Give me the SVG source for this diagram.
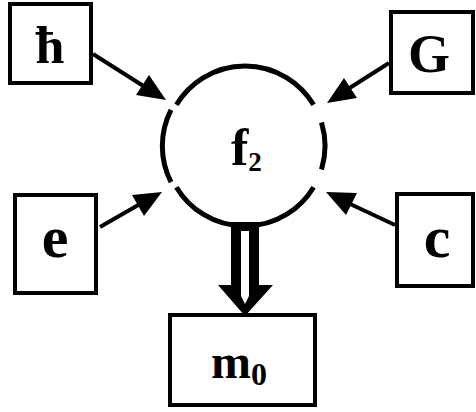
<svg xmlns="http://www.w3.org/2000/svg" width="476" height="412" viewBox="0 0 476 412">
<style>
.box{fill:#fff;stroke:#000;stroke-width:4}
.lbl{font-family:"Liberation Serif","Times New Roman",serif;font-weight:bold;fill:#000}
.ln{stroke:#000;stroke-width:4;fill:none}
.hd{fill:#000}
.arc{fill:none;stroke:#000;stroke-width:5}
</style>
<rect width="476" height="412" fill="#fff"/>
<g id="connectors">
<line class="ln" x1="93" y1="54" x2="145" y2="87"/>
<polygon class="hd" points="166,100 136,95 149,75"/>
<line class="ln" x1="389" y1="63" x2="348" y2="89"/>
<polygon class="hd" points="327,103 344,78 357,98"/>
<line class="ln" x1="100" y1="227" x2="140" y2="204"/>
<polygon class="hd" points="162,192 132,195 144,216"/>
<line class="ln" x1="395" y1="225" x2="348" y2="203"/>
<polygon class="hd" points="326,192 357,193 346,215"/>
<path fill="#000" fill-rule="evenodd" d="M231,222 H259 V285 H273 L245,316 L218,285 H231 Z M241,231 H249 V296 L245,304 L241,296 Z"/>
</g>
<g id="f2">
<path class="arc" d="M176.4,104.8 A80,80 0 0 1 313.6,104.8"/>
<path class="arc" d="M313.6,187.2 A80,80 0 0 1 176.4,187.2"/>
<path class="arc" stroke-width="3" d="M321.5,122.6 A80,80 0 0 1 321.5,169.4"/>
<path class="arc" stroke-width="4" d="M171,182.2 A80,80 0 0 1 171,109.8"/>
<text class="lbl" x="231" y="165" font-size="52">f<tspan font-size="27" dy="6">2</tspan></text>
</g>
<g id="hbar">
<rect class="box" x="10" y="4" width="81" height="79"/>
<text class="lbl" x="50" y="63" font-size="52" text-anchor="middle">ħ</text>
</g>
<g id="G">
<rect class="box" x="391" y="12" width="82" height="81"/>
<text class="lbl" x="429" y="72" font-size="54" text-anchor="middle">G</text>
</g>
<g id="e">
<rect class="box" x="15" y="195" width="81" height="98"/>
<text class="lbl" x="55" y="257" font-size="60" text-anchor="middle">e</text>
</g>
<g id="c">
<rect class="box" x="397" y="194" width="76" height="92"/>
<text class="lbl" x="437" y="257" font-size="60" text-anchor="middle">c</text>
</g>
<g id="m0">
<rect class="box" x="170" y="315" width="145" height="90"/>
<text class="lbl" x="211" y="378" font-size="48">m<tspan font-size="32" dy="7">0</tspan></text>
</g>
</svg>
